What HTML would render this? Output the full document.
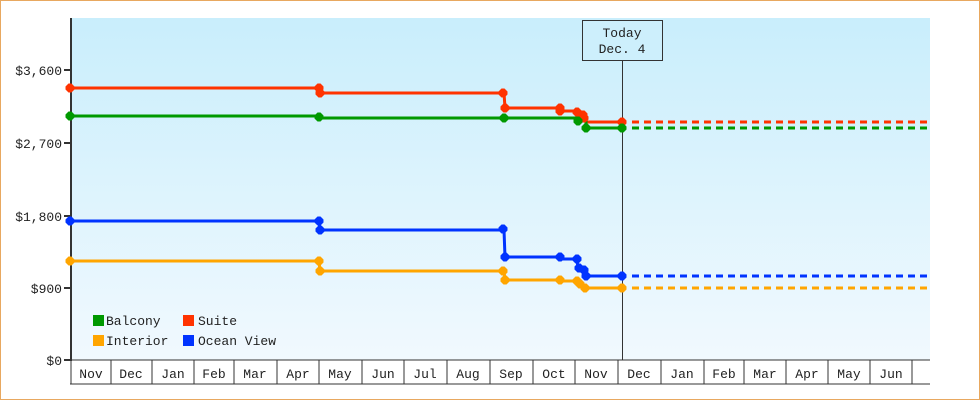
<!DOCTYPE html>
<html><head><meta charset="utf-8"><style>
html,body{margin:0;padding:0;background:#fff}
svg{display:block}
text{font-family:"Liberation Mono","DejaVu Sans Mono",monospace;font-size:13px;fill:#222}
</style></head><body>
<svg width="980" height="400" viewBox="0 0 980 400">
<defs>
<linearGradient id="bg" x1="0" y1="0" x2="0" y2="1">
<stop offset="0" stop-color="#c9eefc"/><stop offset="1" stop-color="#f1f9fe"/>
</linearGradient>
<g id="d"><path d="M-1.5,-4.5L1.5,-4.5L4.5,-1.5L4.5,1.5L1.5,4.5L-1.5,4.5L-4.5,1.5L-4.5,-1.5Z"/></g>
</defs>
<rect x="0.5" y="0.5" width="979" height="399" fill="#fff" stroke="#e8a860"/>
<rect x="71" y="18" width="859" height="342" fill="url(#bg)"/>
<line x1="71" y1="18" x2="71" y2="361" stroke="#333" stroke-width="2"/>
<line x1="70" y1="360" x2="930" y2="360" stroke="#333" stroke-width="1"/>
<g stroke="#333" stroke-width="2">
<line x1="64" y1="360" x2="71" y2="360"/><line x1="64" y1="288" x2="71" y2="288"/>
<line x1="64" y1="216" x2="71" y2="216"/><line x1="64" y1="143" x2="71" y2="143"/>
<line x1="64" y1="70" x2="71" y2="70"/>
</g>
<g text-anchor="end">
<text x="62" y="365">$0</text><text x="62" y="293">$900</text>
<text x="62" y="221">$1,800</text><text x="62" y="148">$2,700</text><text x="62" y="75">$3,600</text>
</g>
<line x1="70" y1="384" x2="930" y2="384" stroke="#333"/>
<g stroke="#333">
<line x1="71" y1="360" x2="71" y2="384"/><line x1="111" y1="360" x2="111" y2="384"/>
<line x1="152" y1="360" x2="152" y2="384"/><line x1="194" y1="360" x2="194" y2="384"/>
<line x1="234" y1="360" x2="234" y2="384"/><line x1="277" y1="360" x2="277" y2="384"/>
<line x1="319" y1="360" x2="319" y2="384"/><line x1="362" y1="360" x2="362" y2="384"/>
<line x1="404" y1="360" x2="404" y2="384"/><line x1="447" y1="360" x2="447" y2="384"/>
<line x1="490" y1="360" x2="490" y2="384"/><line x1="533" y1="360" x2="533" y2="384"/>
<line x1="575" y1="360" x2="575" y2="384"/><line x1="618" y1="360" x2="618" y2="384"/>
<line x1="661" y1="360" x2="661" y2="384"/><line x1="704" y1="360" x2="704" y2="384"/>
<line x1="744" y1="360" x2="744" y2="384"/><line x1="786" y1="360" x2="786" y2="384"/>
<line x1="828" y1="360" x2="828" y2="384"/><line x1="870" y1="360" x2="870" y2="384"/>
<line x1="912" y1="360" x2="912" y2="384"/>
</g>
<g text-anchor="middle">
<text x="91" y="378">Nov</text><text x="131" y="378">Dec</text><text x="173" y="378">Jan</text>
<text x="214" y="378">Feb</text><text x="255" y="378">Mar</text><text x="298" y="378">Apr</text>
<text x="340" y="378">May</text><text x="383" y="378">Jun</text><text x="425" y="378">Jul</text>
<text x="468" y="378">Aug</text><text x="511" y="378">Sep</text><text x="554" y="378">Oct</text>
<text x="596" y="378">Nov</text><text x="639" y="378">Dec</text><text x="682" y="378">Jan</text>
<text x="724" y="378">Feb</text><text x="765" y="378">Mar</text><text x="807" y="378">Apr</text>
<text x="849" y="378">May</text><text x="891" y="378">Jun</text>
</g>
<line x1="622.5" y1="60" x2="622.5" y2="360" stroke="#333"/>
<rect x="582.5" y="20.5" width="80" height="40" fill="#cdeffc" stroke="#333"/>
<text x="622" y="37" text-anchor="middle">Today</text>
<text x="622" y="53" text-anchor="middle">Dec. 4</text>
<g fill="none" stroke-width="3">
<polyline stroke="#ff3300" points="70,88 319,88 320,93 504,93 505,108 560,108 561,111 577,111 578,113 583,113 584,118 586,118 586,122 622,122"/>
<line stroke="#ff3300" x1="632" y1="122" x2="930" y2="122" stroke-dasharray="7,5"/>
<polyline stroke="#009900" points="70,116 319,116 320,118 504,118 577,118 578,121 586,121 586,128 622,128"/>
<line stroke="#009900" x1="632" y1="128" x2="930" y2="128" stroke-dasharray="7,5"/>
<polyline stroke="#0033ff" points="70,221 319,221 320,230 504,230 505,257 560,257 561,259 577,259 578,269 583,269 586,276 622,276"/>
<line stroke="#0033ff" x1="632" y1="276" x2="930" y2="276" stroke-dasharray="7,5"/>
<polyline stroke="#ffa500" points="70,261 319,261 320,271 504,271 505,280 560,280 561,281 577,281 578,284 586,286 586,288 622,288"/>
<line stroke="#ffa500" x1="632" y1="288" x2="930" y2="288" stroke-dasharray="7,5"/>
</g>
<g fill="#ff3300">
<use href="#d" x="70" y="88"/><use href="#d" x="319" y="88"/><use href="#d" x="320" y="93"/>
<use href="#d" x="503" y="93"/><use href="#d" x="505" y="108"/><use href="#d" x="560" y="108"/><use href="#d" x="560" y="111"/>
<use href="#d" x="577" y="112"/><use href="#d" x="583" y="115"/><use href="#d" x="584" y="118"/><use href="#d" x="622" y="122"/>
</g>
<g fill="#009900">
<use href="#d" x="70" y="116"/><use href="#d" x="319" y="117"/><use href="#d" x="504" y="118"/>
<use href="#d" x="578" y="121"/><use href="#d" x="586" y="128"/><use href="#d" x="622" y="128"/>
</g>
<g fill="#0033ff">
<use href="#d" x="70" y="221"/><use href="#d" x="319" y="221"/><use href="#d" x="320" y="230"/>
<use href="#d" x="503" y="229"/><use href="#d" x="505" y="257"/><use href="#d" x="560" y="257"/><use href="#d" x="577" y="259"/>
<use href="#d" x="579" y="268"/><use href="#d" x="584" y="270"/><use href="#d" x="586" y="276"/><use href="#d" x="622" y="276"/>
</g>
<g fill="#ffa500">
<use href="#d" x="70" y="261"/><use href="#d" x="319" y="261"/><use href="#d" x="320" y="271"/>
<use href="#d" x="503" y="271"/><use href="#d" x="505" y="280"/><use href="#d" x="560" y="280"/><use href="#d" x="577" y="281"/>
<use href="#d" x="580" y="284"/><use href="#d" x="585" y="288"/><use href="#d" x="622" y="288"/>
</g>
<rect x="93" y="315" width="11" height="11" fill="#009900"/><text x="106" y="325">Balcony</text>
<rect x="183" y="315" width="11" height="11" fill="#ff3300"/><text x="198" y="325">Suite</text>
<rect x="93" y="335" width="11" height="11" fill="#ffa500"/><text x="106" y="345">Interior</text>
<rect x="183" y="335" width="11" height="11" fill="#0033ff"/><text x="198" y="345">Ocean View</text>
</svg>
</body></html>
